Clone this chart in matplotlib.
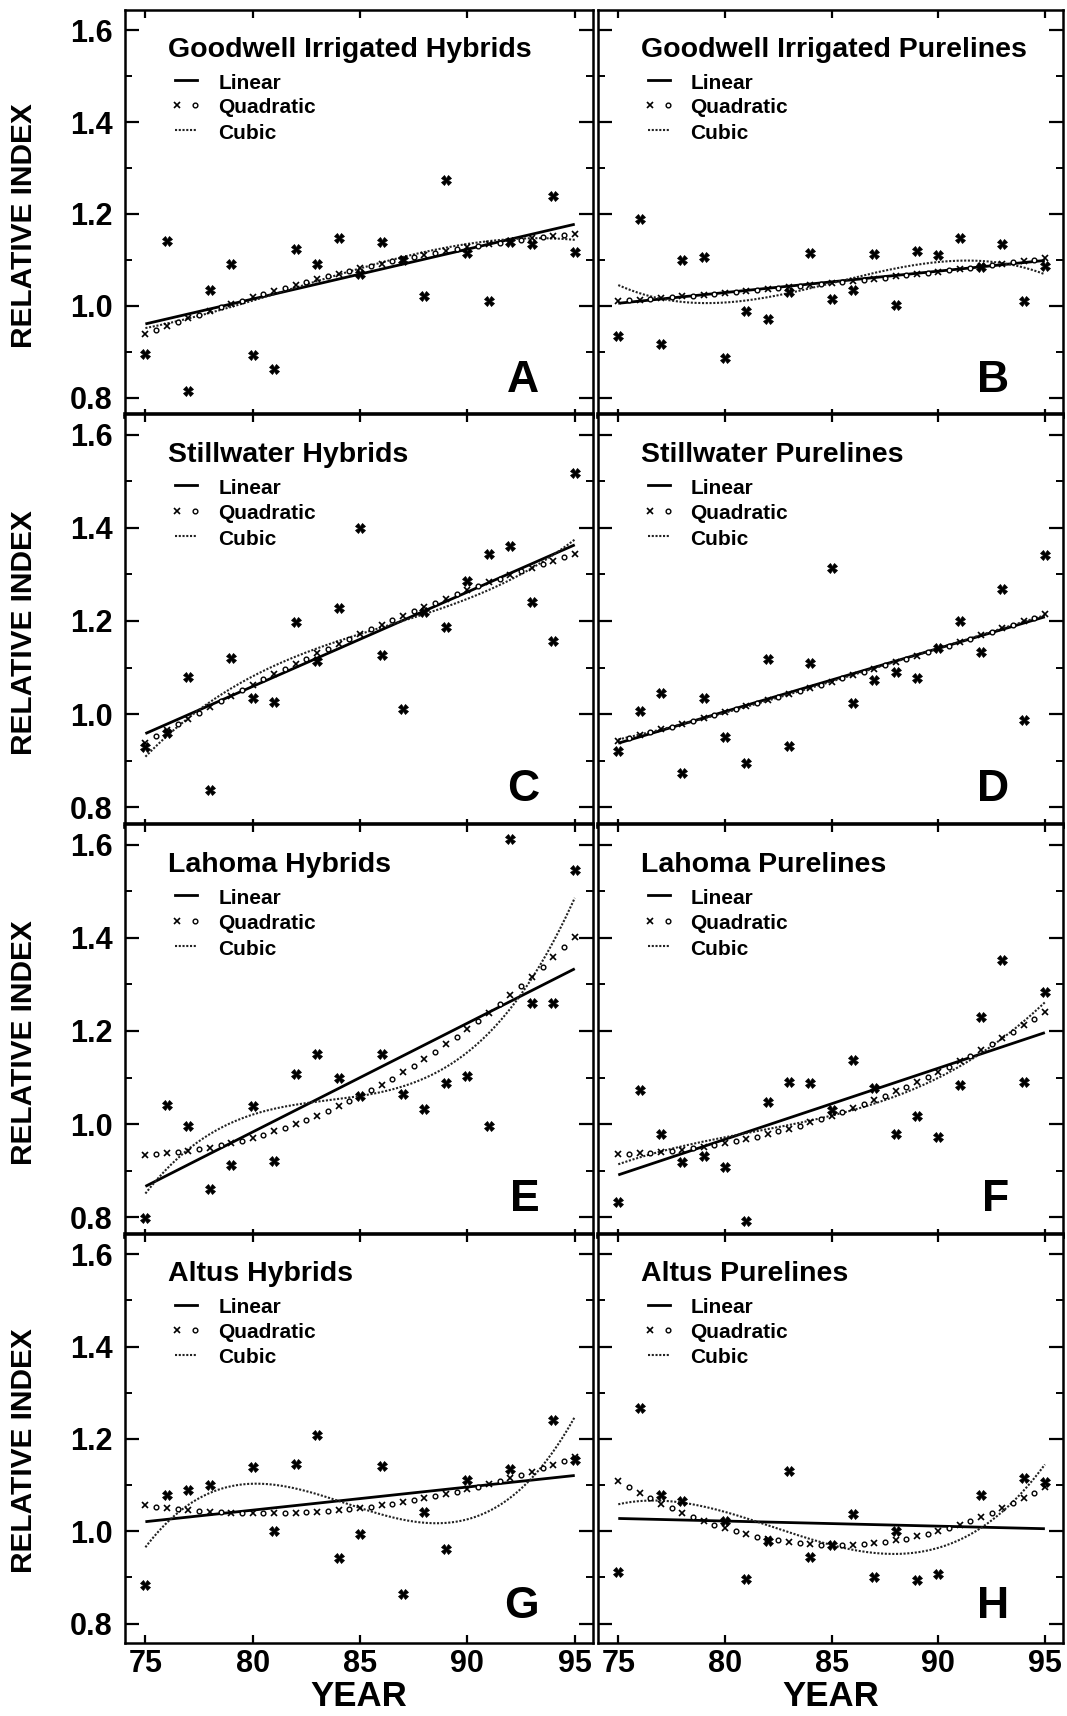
import numpy as np
import matplotlib
matplotlib.use("Agg")
import matplotlib.pyplot as plt
from matplotlib.ticker import MultipleLocator

# ---------------- data ----------------
years = [75, 76, 77, 78, 79, 80, 81, 82, 83, 84, 85, 86, 87, 88, 89, 90, 91, 92, 93, 94, 95]
years_altus = [75, 76, 77, 78, 80, 81, 82, 83, 84, 85, 86, 87, 88, 89, 90, 92, 94, 95]

goodwell_hybrids = [0.895, 1.142, 0.814, 1.034, 1.090, 0.894, 0.863, 1.123, 1.092, 1.148, 1.070,
                    1.138, 1.100, 1.022, 1.273, 1.114, 1.010, 1.138, 1.134, 1.239, 1.118]
goodwell_purelines = [0.934, 1.190, 0.918, 1.100, 1.107, 0.886, 0.989, 0.971, 1.030, 1.114, 1.015,
                      1.035, 1.112, 1.002, 1.120, 1.111, 1.147, 1.085, 1.134, 1.010, 1.086]
stillwater_hybrids = [0.930, 0.960, 1.080, 0.838, 1.120, 1.034, 1.026, 1.198, 1.114, 1.227, 1.400,
                      1.128, 1.011, 1.220, 1.188, 1.286, 1.344, 1.361, 1.240, 1.156, 1.517]
stillwater_purelines = [0.920, 1.006, 1.046, 0.873, 1.035, 0.951, 0.896, 1.118, 0.932, 1.110, 1.314,
                        1.024, 1.074, 1.090, 1.078, 1.142, 1.200, 1.134, 1.268, 0.988, 1.341]
lahoma_hybrids = [0.798, 1.042, 0.996, 0.860, 0.912, 1.038, 0.922, 1.108, 1.151, 1.100, 1.060,
                  1.151, 1.064, 1.032, 1.088, 1.104, 0.996, 1.612, 1.260, 1.261, 1.546]
lahoma_purelines = [0.834, 1.074, 0.980, 0.919, 0.932, 0.908, 0.792, 1.048, 1.090, 1.088, 1.030,
                    1.138, 1.078, 0.978, 1.018, 0.972, 1.085, 1.231, 1.352, 1.090, 1.283]
altus_hybrids = [0.884, 1.078, 1.090, 1.100, 1.140, 1.000, 1.146, 1.208, 0.943, 0.994,
                 1.142, 0.864, 1.042, 0.962, 1.111, 1.134, 1.242, 1.155]
altus_purelines = [0.912, 1.266, 1.078, 1.066, 1.023, 0.897, 0.980, 1.130, 0.945, 0.970,
                   1.037, 0.902, 1.000, 0.895, 0.908, 1.078, 1.116, 1.106]

titles = ["Goodwell Irrigated Hybrids", "Goodwell Irrigated Purelines",
          "Stillwater Hybrids", "Stillwater Purelines",
          "Lahoma Hybrids", "Lahoma Purelines",
          "Altus Hybrids", "Altus Purelines"]
letters = ["A", "B", "C", "D", "E", "F", "G", "H"]
series_x = [years, years, years, years, years, years, years_altus, years_altus]
series_y = [goodwell_hybrids, goodwell_purelines, stillwater_hybrids, stillwater_purelines,
            lahoma_hybrids, lahoma_purelines, altus_hybrids, altus_purelines]
legend_labels = ["Linear", "Quadratic", "Cubic"]
xtick_values = [75, 80, 85, 90, 95]
xtick_labels = ["75", "80", "85", "90", "95"]
ytick_values = [0.8, 1.0, 1.2, 1.4, 1.6]
ytick_labels = ["0.8", "1.0", "1.2", "1.4", "1.6"]

# ---------------- layout ----------------
W, H = 1067, 1716
fig = plt.figure(figsize=(W / 100, H / 100), dpi=100)
col_x = [125, 598]
col_w = [468, 465]
row_top = [10, 414, 824, 1234]
row_bot = [417, 827, 1237, 1643]

BOLD = "bold"
SANS = ["Liberation Sans", "DejaVu Sans"]
CUBIC_STYLE = dict(color="#222222", lw=1.5, ls=(0, (1.0, 0.8)))
XMARK = dict(ls="none", marker="x", ms=4.0, mew=1.2, color="black")
OMARK = dict(ls="none", marker="o", ms=3.4, mew=1.0, mfc="white", mec="black")

for i in range(8):
    r, c = divmod(i, 2)
    x0 = col_x[c]
    ax = fig.add_axes([x0 / W, 1 - row_bot[r] / H, col_w[c] / W, (row_bot[r] - row_top[r]) / H])
    x = np.array(series_x[i], dtype=float)
    y = np.array(series_y[i], dtype=float)

    xx = np.linspace(75, 95, 201)
    # least-squares fits of the plotted data
    p1 = np.polyfit(x, y, 1)
    p2 = np.polyfit(x, y, 2)
    p3 = np.polyfit(x, y, 3)

    ax.plot(xx, np.polyval(p1, xx), color="black", lw=2.0, solid_capstyle="butt", zorder=3)
    ax.plot(xx, np.polyval(p3, xx), zorder=3, **CUBIC_STYLE)
    xq = np.arange(75, 95.01, 0.5)
    yq = np.polyval(p2, xq)
    ax.plot(xq[::2], yq[::2], zorder=4, **XMARK)
    ax.plot(xq[1::2], yq[1::2], zorder=4, **OMARK)

    ax.plot(x, y, ls="none", marker="X", ms=7, mfc="black", mec="black", mew=0.5, zorder=5)

    ax.set_xlim(74.05, 95.85)
    ax.set_ylim(0.758, 1.644)

    for sp in ax.spines.values():
        sp.set_linewidth(1.8)
    if r < 3:
        ax.spines["bottom"].set_linewidth(2.6)
    if r > 0:
        ax.spines["top"].set_linewidth(2.6)

    ax.set_xticks(xtick_values)
    ax.set_yticks(ytick_values)
    ax.yaxis.set_minor_locator(MultipleLocator(0.1))
    ax.tick_params(axis="both", which="both", direction="in", top=True, right=True)
    ax.tick_params(axis="y", which="major", length=10, width=1.6, pad=9)
    ax.tick_params(axis="y", which="minor", length=5, width=1.4)
    ax.tick_params(axis="x", which="major", length=6, width=1.6, pad=4)

    if c == 0:
        ax.set_yticklabels(ytick_labels, fontsize=22, fontweight=BOLD, family=SANS)
        ax.text(-0.216, 0.47, "RELATIVE INDEX", transform=ax.transAxes, rotation=90,
                ha="center", va="center", fontsize=21.5, fontweight=BOLD, family=SANS)
    else:
        ax.set_yticklabels([])
    if r == 3:
        ax.set_xticklabels(xtick_labels, fontsize=22, fontweight=BOLD, family=SANS)
        ax.set_xlabel("YEAR", fontsize=25, fontweight=BOLD, family=SANS, labelpad=1)
    else:
        ax.set_xticklabels([])

    # title and legend block
    ax.text(0.092, 0.884, titles[i], transform=ax.transAxes, ha="left", va="baseline",
            fontsize=20.5, fontweight=BOLD, family=SANS)
    base = [0.807, 0.746, 0.684]
    for k, lab in enumerate(legend_labels):
        ax.text(0.199, base[k], lab, transform=ax.transAxes, ha="left", va="baseline",
                fontsize=15, fontweight=BOLD, family=SANS)
    ky = [b + 0.02 for b in base]
    ax.plot([0.107, 0.154], [ky[0], ky[0]], transform=ax.transAxes, color="black", lw=2.0)
    ax.plot([0.111], [ky[1]], transform=ax.transAxes, **XMARK)
    ax.plot([0.150], [ky[1]], transform=ax.transAxes, **OMARK)
    ax.plot([0.107, 0.154], [ky[2], ky[2]], transform=ax.transAxes, **CUBIC_STYLE)

    ax.text(0.885, 0.062, letters[i], transform=ax.transAxes, ha="right", va="baseline",
            fontsize=32, fontweight=BOLD, family=SANS)

fig.savefig("out.png", dpi=100)
